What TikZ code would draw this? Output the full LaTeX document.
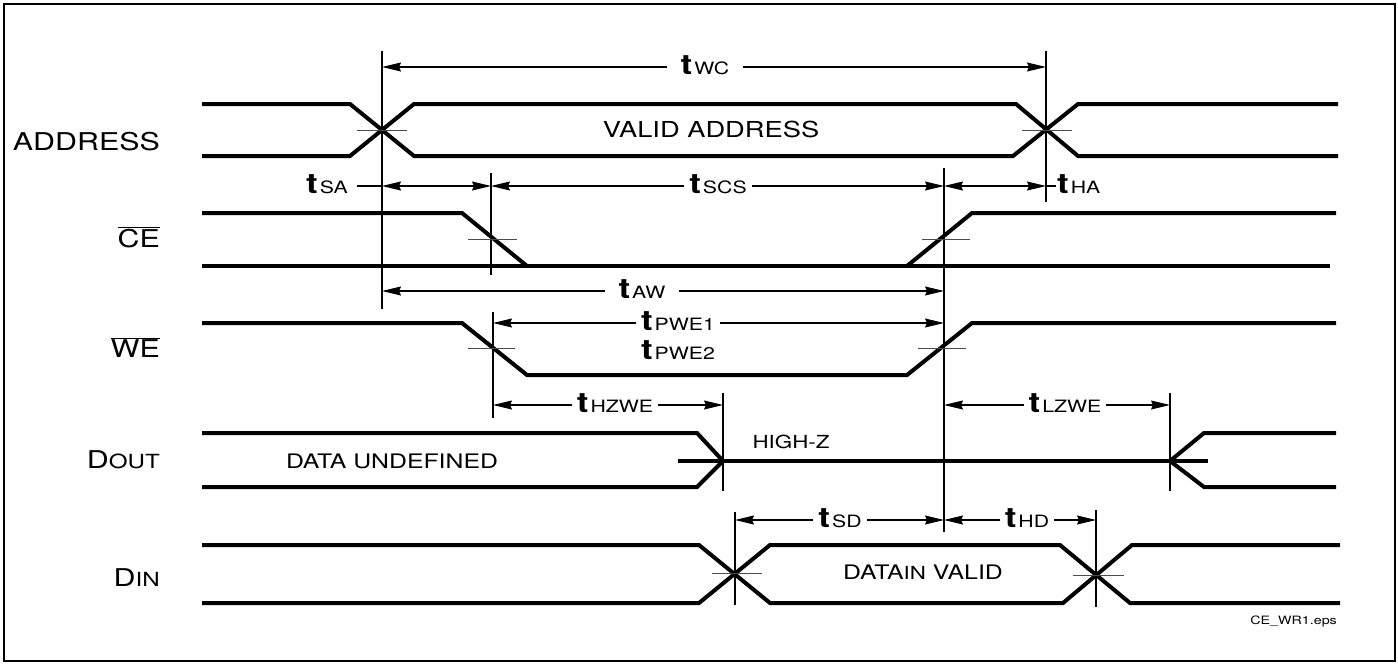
\documentclass[tikz,border=0pt]{standalone}
\usepackage{fontspec}
\usepackage{graphicx}
\setmainfont{TeX Gyre Heros}
\usetikzlibrary{arrows.meta}
\newcommand{\stx}[1]{\scalebox{1.24}[1]{#1}}
\newcommand{\fs}[1]{\fontsize{#1}{#1}\selectfont}
\newcommand{\tlab}[1]{\scalebox{1.25}[1]{\fs{28}\bfseries t}\hspace{2pt}\scalebox{1.25}[1]{\fs{17}#1}}
\begin{document}
\begin{tikzpicture}[x=1pt,y=-1pt,
  sigline/.style={line width=4pt},
  guide/.style={line width=1.1pt},
  tickmark/.style={line width=1pt, black!70},
  dimarrow/.style={line width=1.1pt, {Stealth[length=19pt,width=9pt,inset=2pt]}-{Stealth[length=19pt,width=9pt,inset=2pt]}},
  tlabel/.style={fill=white, inner xsep=5pt, inner ysep=0pt, anchor=base},
  siglabel/.style={anchor=base east, inner sep=0pt},
  intext/.style={anchor=base, inner sep=0pt}]
\useasboundingbox (0,0) rectangle (1398,664);
\draw[line width=2.5pt] (4,4) rectangle (1395,661);

% ---------- signal labels ----------
\node[siglabel] (lADDR) at (160,150) {\stx{\fs{24.5}ADDRESS}};
\node[siglabel] (lCE) at (160,247) {\stx{\fs{24.5}$\overline{\hbox{CE}}$}};
\node[siglabel] (lWE) at (160,357) {\stx{\fs{24.5}$\overline{\hbox{WE}}$}};
\node[siglabel] (lDOUT) at (160,468) {\stx{\fs{24.5}D\fs{19.5}OUT}};
\node[siglabel] (lDIN) at (160,586) {\stx{\fs{24.5}D\fs{19.5}IN}};

% ---------- ADDRESS ----------
\draw[sigline] (202,104) -- (350,104) -- (414,156) -- (1013,156) -- (1078,104) -- (1338,104);
\draw[sigline] (202,156) -- (350,156) -- (414,104) -- (1016,104) -- (1078,156) -- (1338,156);
\node[intext] (tVA) at (711,137) {\stx{\fs{22}VALID ADDRESS}};

% ---------- CE ----------
\draw[sigline] (202,213) -- (462,213) -- (527,266);
\draw[sigline] (202,266) -- (1330,266);
\draw[sigline] (907,266) -- (972,213) -- (1336,213);

% ---------- WE ----------
\draw[sigline] (202,323) -- (462,323) -- (527,375) -- (907,375) -- (972,323) -- (1336,323);

% ---------- DOUT ----------
\draw[sigline] (202,433) -- (697,433) -- (723,461) -- (697,487) -- (202,487);
\draw[sigline] (678,461) -- (1208,461);
\draw[sigline] (1336,433) -- (1204,433) -- (1170,461) -- (1204,487) -- (1336,487);
\node[intext] (tDU) at (392,468) {\stx{\fs{20}DATA UNDEFINED}};
\node[intext] (tHZ) at (791,448) {\stx{\fs{18}HIGH-Z}};

% ---------- DIN ----------
\draw[sigline] (202,545) -- (699,545) -- (770,603) -- (1063,603) -- (1132,545) -- (1340,545);
\draw[sigline] (202,603) -- (699,603) -- (770,545) -- (1060,545) -- (1130,603) -- (1340,603);
\node[intext] (tDV) at (923,579) {\stx{\fs{20}DATA\fs{18}IN\fs{20} VALID}};

% ---------- guide lines ----------
\draw[guide] (382,51) -- (382,309);
\draw[guide] (1046,51) -- (1046,202);
\draw[guide] (491,173) -- (491,275);
\draw[guide] (944,168) -- (944,532);
\draw[guide] (493,312) -- (493,418);
\draw[guide] (723,393) -- (723,491);
\draw[guide] (1170,393) -- (1170,491);
\draw[guide] (735,512) -- (735,605);
\draw[guide] (1096,510) -- (1096,607);

% ---------- crossing ticks ----------
\draw[tickmark] (357,130) -- (407,130);
\draw[tickmark] (1022,130) -- (1072,130);
\draw[tickmark] (468,239) -- (517,239);
\draw[tickmark] (922,239) -- (970,239);
\draw[tickmark] (468,348) -- (515,348);
\draw[tickmark] (918,348) -- (966,348);
\draw[tickmark] (712,573) -- (762,573);
\draw[tickmark] (1073,575) -- (1124,575);

% ---------- timing arrows ----------
\coordinate (wcL) at (382,67); \coordinate (wcR) at (1046,67);
\draw[dimarrow] (wcL) -- (wcR);
\node[tlabel, inner xsep=14pt] (tWC) at (705,74) {\tlab{WC}};

\coordinate (saL) at (382,186); \coordinate (saR) at (491,186); \coordinate (saT) at (357,186);
\draw[guide] (saT) -- (saL);
\draw[dimarrow] (saL) -- (saR);
\node[anchor=base east, inner sep=0pt] (tSA) at (348,193) {\tlab{SA}};

\coordinate (scsR) at (944,186);
\draw[dimarrow] (saR) -- (scsR);
\node[tlabel] (tSCS) at (718,193) {\tlab{SCS}};

\coordinate (haR) at (1046,186); \coordinate (haT) at (1056,186);
\draw[dimarrow] (scsR) -- (haR);
\draw[guide] (haR) -- (haT);
\node[anchor=base west, inner sep=0pt] (tHA) at (1057,193) {\tlab{HA}};

\coordinate (awL) at (382,291); \coordinate (awR) at (944,291);
\draw[dimarrow] (awL) -- (awR);
\node[tlabel, inner xsep=14pt] (tAW) at (642,298) {\tlab{AW}};

\coordinate (pwL) at (493,323); \coordinate (pwR) at (944,323);
\draw[dimarrow] (pwL) -- (pwR);
\node[tlabel] (tPWE1) at (678,330) {\tlab{PWE1}};
\node[tlabel] (tPWE2) at (678,359) {\tlab{PWE2}};

\coordinate (hzL) at (493,405); \coordinate (hzR) at (723,405);
\draw[dimarrow] (hzL) -- (hzR);
\node[tlabel] (tHZWE) at (615,412) {\tlab{HZWE}};

\coordinate (lzL) at (944,405); \coordinate (lzR) at (1170,405);
\draw[dimarrow] (lzL) -- (lzR);
\node[tlabel] (tLZWE) at (1065,412) {\tlab{LZWE}};

\coordinate (sdL) at (735,520); \coordinate (sdR) at (944,520); \coordinate (hdR) at (1096,520);
\draw[dimarrow] (sdL) -- (sdR);
\node[tlabel] (tSD) at (840,527) {\tlab{SD}};
\draw[dimarrow] (sdR) -- (hdR);
\node[tlabel] (tHD) at (1027,527) {\tlab{HD}};

% ---------- file name ----------
\node[anchor=base east, inner sep=0pt] (fname) at (1337,624) {\stx{\fs{11.5}CE\_WR1.eps}};
\end{tikzpicture}
\end{document}
